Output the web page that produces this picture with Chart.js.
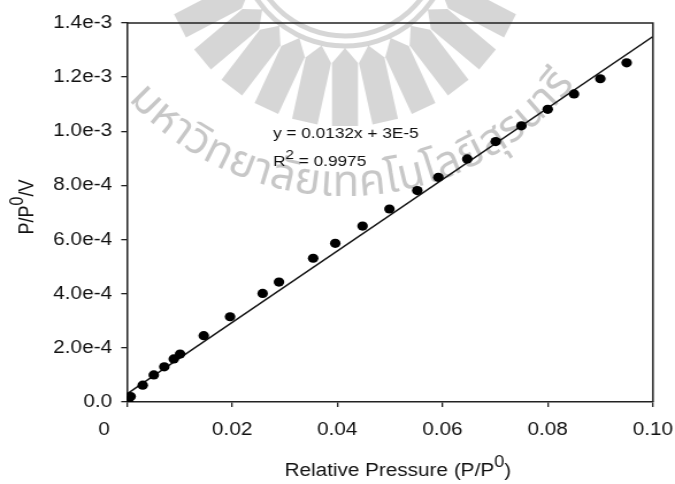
<!DOCTYPE html>
<html>
<head>
<meta charset="utf-8">
<script src="https://cdn.jsdelivr.net/npm/chart.js@4.4.1/dist/chart.umd.min.js"></script>
<style>
  html, body { margin: 0; padding: 0; background: #fff; }
</style>
</head>
<body>
<canvas id="chart" width="587" height="484" style="display:block;width:675px;height:484px;"></canvas>
<script>
// measured points (relative pressure vs P/P0/V)
const xValues = [0.0002, 0.0007, 0.0030, 0.0051, 0.0071, 0.0089, 0.0101, 0.0146, 0.0196, 0.0258, 0.0289, 0.0354,
                 0.0396, 0.0448, 0.0499, 0.0552, 0.0592, 0.0647, 0.0701, 0.0750, 0.0800, 0.0850, 0.0900, 0.0950];
const yValues = [0.000005, 0.000020, 0.000062, 0.000100, 0.000130, 0.000159, 0.000177, 0.000245, 0.000315, 0.000401,
                 0.000443, 0.000531, 0.000586, 0.000650, 0.000713, 0.000781, 0.000830, 0.000898, 0.000962, 0.001020,
                 0.001081, 0.001138, 0.001194, 0.001253];

// fitted line y = 0.0132x + 3E-5, end points
const fitX = [0, 0.1];
const fitY = [0.00003, 0.00135];

const xTickLabels = ['0', '0.02', '0.04', '0.06', '0.08', '0.10'];
const yTickLabels = ['0.0', '2.0e-4', '4.0e-4', '6.0e-4', '8.0e-4', '1.0e-3', '1.2e-3', '1.4e-3'];

const equationText = 'y = 0.0132x + 3E-5';
const r2Value = '0.9975';
const watermarkText = ['ม', 'ห', 'า', 'วิ', 'ท', 'ย', 'า', 'ลั', 'ย', 'เ', 'ท', 'ค', 'โ', 'น', 'โ', 'ล', 'ยี', 'สุ', 'ร', 'น', 'า', 'รี'];

// the source picture is stretched sideways, so the canvas is too
const STRETCH = 675 / 587;
const FONT = '"Liberation Sans", Arial, sans-serif';

Chart.defaults.font.family = FONT;
Chart.defaults.color = '#111';

const drawWatermark = (ctx) => {
    ctx.save();
    ctx.scale(1 / STRETCH, 1); // work in screen pixels
    const cx = 345, cy = -60;
    ctx.fillStyle = 'rgba(0,0,0,0.16)';
    ctx.strokeStyle = 'rgba(0,0,0,0.16)';

    // ring of the emblem
    ctx.lineWidth = 5;
    [96, 106].forEach(r => {
        ctx.beginPath();
        ctx.arc(cx, cy, r, 0.15 * Math.PI, 0.85 * Math.PI);
        ctx.stroke();
    });

    // rays
    for (let a = -62.5; a <= 62.6; a += 12.5) {
        const t = a * Math.PI / 180;
        ctx.save();
        ctx.translate(cx, cy);
        ctx.rotate(-t);
        ctx.beginPath();
        ctx.moveTo(0, 108);
        ctx.lineTo(13, 123);
        ctx.lineTo(13, 186);
        ctx.lineTo(-13, 186);
        ctx.lineTo(-13, 123);
        ctx.closePath();
        ctx.fill();
        ctx.restore();
    }

    // university name along the arc
    const tcx = 345, tcy = -96, radius = 292;
    ctx.font = '44px "Noto Sans Thai", "Noto Sans", ' + FONT;
    ctx.fillStyle = 'rgba(0,0,0,0.22)';
    ctx.textAlign = 'center';
    ctx.textBaseline = 'alphabetic';
    const widths = watermarkText.map(c => ctx.measureText(c).width);
    const total = widths.reduce((s, w) => s + w, 0);
    const span = (138 - 38) * Math.PI / 180;
    const k = span * (radius - 15) / total;
    let ang = 138 * Math.PI / 180;
    watermarkText.forEach((c, i) => {
        const step = widths[i] * k / (radius - 15);
        const mid = ang - step / 2;
        ctx.save();
        ctx.translate(tcx + radius * Math.cos(mid), tcy + radius * Math.sin(mid));
        ctx.rotate(mid - Math.PI / 2);
        ctx.fillText(c, 0, 0);
        ctx.restore();
        ang -= step;
    });
    ctx.restore();
};

// draw text with a raised superscript piece: parts = [[text, isSup], ...]
const drawRich = (ctx, parts, x, y, size, align) => {
    const supSize = size * 0.88;
    const widthOf = p => {
        ctx.font = (p[1] ? supSize : size) + 'px ' + FONT;
        return ctx.measureText(p[0]).width;
    };
    const total = parts.reduce((s, p) => s + widthOf(p), 0);
    let pos = align === 'center' ? x - total / 2 : x;
    ctx.textAlign = 'left';
    ctx.textBaseline = 'alphabetic';
    parts.forEach(p => {
        const w = widthOf(p);
        ctx.fillText(p[0], pos, p[1] ? y - size * 0.5 : y);
        pos += w;
    });
};

const decorPlugin = {
    id: 'decor',
    beforeDraw(chart) {
        const ctx = chart.ctx;
        ctx.save();
        ctx.fillStyle = '#fff';
        ctx.fillRect(0, 0, chart.width, chart.height);
        ctx.restore();
        drawWatermark(ctx);
    },
    afterDraw(chart) {
        const ctx = chart.ctx;
        const area = chart.chartArea;
        ctx.save();
        // top and right frame lines
        ctx.strokeStyle = '#222';
        ctx.lineWidth = 1.5;
        ctx.beginPath();
        ctx.moveTo(area.left, area.top);
        ctx.lineTo(area.right, area.top);
        ctx.lineTo(area.right, area.bottom);
        ctx.stroke();

        ctx.fillStyle = '#111';
        // x title
        drawRich(ctx, [['Relative Pressure (P/P', false], ['0', true], [')', false]], 346, 476, 18, 'center');
        // y title, rotated
        ctx.save();
        ctx.translate(28.7, 207);
        ctx.rotate(-Math.PI / 2);
        drawRich(ctx, [['P/P', false], ['0', true], ['/V', false]], 0, 0, 18, 'center');
        ctx.restore();
        // regression text
        ctx.font = '15px ' + FONT;
        ctx.textAlign = 'left';
        ctx.fillText(equationText, 237.4, 138);
        drawRich(ctx, [['R', false], ['2', true], [' = ' + r2Value, false]], 237.4, 166, 15, 'left');
        ctx.restore();
    }
};

const ctx = document.getElementById('chart').getContext('2d');
window.isothermChart = new Chart(ctx, {
    type: 'scatter',
    data: {
        datasets: [{
            label: 'Fit',
            type: 'line',
            data: fitX.map((x, i) => ({ x: x, y: fitY[i] })),
            borderColor: '#111',
            borderWidth: 1.5,
            pointRadius: 0,
            fill: false,
            order: 2
        }, {
            label: 'Data',
            data: xValues.map((x, i) => ({ x: x, y: yValues[i] })),
            backgroundColor: '#000',
            borderWidth: 0,
            pointRadius: 4.6,
            order: 1
        }]
    },
    options: {
        responsive: false,
        animation: false,
        devicePixelRatio: 1,
        layout: { padding: { top: 23, right: 0, left: 0, bottom: 0 } },
        plugins: {
            legend: { display: false },
            tooltip: { enabled: false }
        },
        scales: {
            x: {
                type: 'linear',
                min: 0,
                max: 0.1,
                ticks: {
                    stepSize: 0.02,
                    padding: 12,
                    color: '#111',
                    font: { size: 18 },
                    maxRotation: 0,
                    callback: (v, i) => i === 0 ? xTickLabels[0] + '        ' : xTickLabels[i]
                },
                grid: { drawOnChartArea: false, tickLength: 5, color: '#222', lineWidth: 1.3 },
                border: { color: '#222', width: 1.5 },
                afterFit: (scale) => {
                    scale.height = 82;
                    scale.paddingLeft = 0;
                    scale.paddingRight = 19.2;
                }
            },
            y: {
                type: 'linear',
                min: 0,
                max: 0.0014,
                ticks: {
                    stepSize: 0.0002,
                    padding: 8,
                    color: '#111',
                    font: { size: 18 },
                    callback: (v, i) => yTickLabels[i]
                },
                grid: { drawOnChartArea: false, tickLength: 5, color: '#222', lineWidth: 1.3 },
                border: { color: '#222', width: 1.5 },
                afterFit: (scale) => { scale.width = 110.4; }
            }
        }
    },
    plugins: [decorPlugin]
});
</script>
</body>
</html>
